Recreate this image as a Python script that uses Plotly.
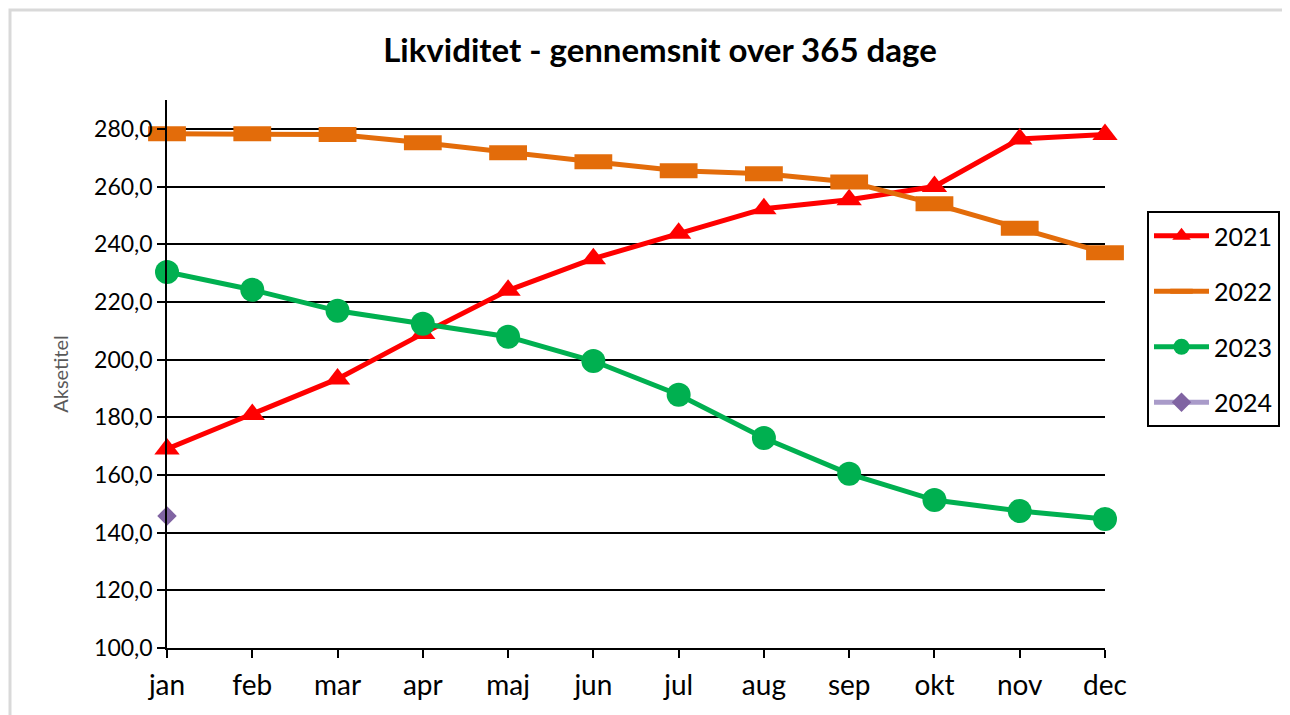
import plotly.graph_objects as go

months = ["jan", "feb", "mar", "apr", "maj", "jun", "jul", "aug", "sep", "okt", "nov", "dec"]
y2021 = [169.0, 181.0, 193.3, 209.0, 224.0, 235.0, 243.8, 252.3, 255.4, 260.0, 276.5, 278.0]
y2022 = [278.3, 278.3, 278.0, 275.2, 271.7, 268.6, 265.5, 264.4, 261.6, 254.0, 245.5, 237.0]
y2023 = [230.4, 224.2, 216.9, 212.4, 207.9, 199.5, 187.8, 172.8, 160.4, 151.3, 147.5, 144.7]
y2024 = [145.8]
ytick_vals = [100, 120, 140, 160, 180, 200, 220, 240, 260, 280]
ytick_text = ["100,0", "120,0", "140,0", "160,0", "180,0", "200,0", "220,0", "240,0", "260,0", "280,0"]

FONT = "Lato"
W, H = 1282, 707          # page body has an 8px margin
L, T, PR, PB = 159, 92, 1097, 640   # plot area edges in figure pixels
PW, PH = PR - L, PB - T

fig = go.Figure()
fig.add_trace(go.Scatter(
    x=months, y=y2021, name="2021", mode="lines+markers", legendgroup="a",
    line=dict(color="#FF0000", width=5),
    marker=dict(symbol="triangle-up", size=22, color="#FF0000"),
    cliponaxis=False))
fig.add_trace(go.Scatter(
    x=months, y=y2022, name="2022", mode="lines+markers", legendgroup="b",
    line=dict(color="#E36C0A", width=5),
    marker=dict(symbol="line-ew", size=27, color="#E36C0A",
                line=dict(color="#E36C0A", width=15)),
    cliponaxis=False))
fig.add_trace(go.Scatter(
    x=months, y=y2023, name="2023", mode="lines+markers", legendgroup="c",
    line=dict(color="#00B050", width=5),
    marker=dict(symbol="circle", size=24, color="#00B050"),
    cliponaxis=False))
fig.add_trace(go.Scatter(
    x=months[:1], y=y2024, name="2024", mode="lines+markers", legendgroup="d",
    line=dict(color="#A99BC9", width=5),
    marker=dict(symbol="diamond", size=15, color="#8064A2"),
    cliponaxis=False))

fig.update_layout(
    width=W, height=H,
    margin=dict(l=L, r=W - PR, t=T, b=H - PB, autoexpand=False),
    paper_bgcolor="white", plot_bgcolor="white",
    font=dict(family=FONT, color="black", size=22),
    title=dict(text="<b>Likviditet - gennemsnit over 365 dage</b>",
               x=652 / W, xref="container", xanchor="center",
               y=1 - 42 / H, yref="container", yanchor="middle",
               font=dict(family=FONT, size=33, color="black")),
    showlegend=True,
    legend=dict(x=(1139 - L) / PW, y=(PB - 203) / PH, xanchor="left", yanchor="top",
                bordercolor="black", borderwidth=2, bgcolor="white",
                font=dict(family=FONT, size=25), tracegroupgap=20,
                itemwidth=55),
    shapes=[dict(type="rect", xref="paper", yref="paper",
                 x0=(2 - L) / PW, x1=(W + 20 - L) / PW,
                 y0=(PB - H - 20) / PH, y1=(PB - 2) / PH,
                 line=dict(color="#D9D9D9", width=3), layer="below")],
)

fig.update_xaxes(
    type="category", range=[0, 11], showgrid=False, showline=True, automargin=False,
    linecolor="black", linewidth=2, ticks="outside", ticklen=8, tickcolor="black",
    tickwidth=2, tickfont=dict(size=28, family=FONT), zeroline=False, ticklabelstandoff=3)
fig.update_yaxes(
    range=[100, 290], tickvals=ytick_vals, ticktext=ytick_text, automargin=False,
    showgrid=True, gridcolor="black", gridwidth=2, showline=True, linecolor="black",
    linewidth=1.5, ticks="outside", ticklen=8, tickcolor="black", tickwidth=1.5,
    tickfont=dict(size=23, family=FONT), zeroline=False,
    title=dict(text="Aksetitel", font=dict(size=20, family=FONT, color="#595959"), standoff=20))

fig.write_html("out.html")
